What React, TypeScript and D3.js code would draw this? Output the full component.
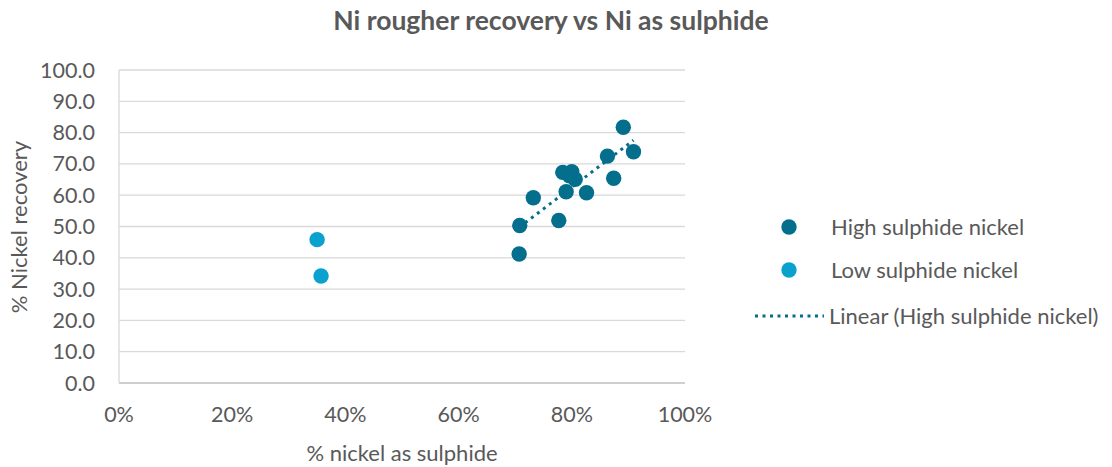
import React, { useEffect, useRef } from "react"
import * as d3 from "d3"

// % nickel as sulphide (x) and % nickel recovery (y)
const highX = [89.1, 90.9, 86.3, 87.4, 82.6, 78.4, 80.0, 80.6, 79.6, 79.0, 73.2, 77.7, 70.8, 70.7]
const highY = [81.7, 73.9, 72.5, 65.4, 60.8, 67.3, 67.5, 65.1, 66.2, 61.1, 59.2, 51.9, 50.3, 41.2]
const lowX = [35.0, 35.7]
const lowY = [45.8, 34.2]
const xTicks = [0, 20, 40, 60, 80, 100]
const yTicks = [0, 10, 20, 30, 40, 50, 60, 70, 80, 90, 100]

const HIGH = "#046F8C"
const LOW = "#0AA1CF"
const TXT = "#595959"
const FONT = "Lato, 'Open Sans', sans-serif"

function App() {
  const ref = useRef<SVGSVGElement>(null)

  useEffect(() => {
    const svg = d3.select(ref.current)
    svg.selectAll("*").remove()

    const x = d3.scaleLinear().domain([0, 100]).range([119, 685])
    const y = d3.scaleLinear().domain([0, 100]).range([383, 70])

    svg
      .append("text")
      .attr("x", 551)
      .attr("y", 30)
      .attr("text-anchor", "middle")
      .attr("font-family", FONT)
      .attr("font-size", 26.5)
      .attr("font-weight", "bold")
      .attr("fill", TXT)
      .text("Ni rougher recovery vs Ni as sulphide")

    // gridlines
    svg
      .append("g")
      .selectAll("line")
      .data(yTicks.filter(d => d > 0))
      .join("line")
      .attr("x1", x(0))
      .attr("x2", x(100))
      .attr("y1", d => y(d))
      .attr("y2", d => y(d))
      .attr("stroke", "#D9D9D9")
      .attr("stroke-width", 1.3)

    svg
      .append("line")
      .attr("x1", x(0))
      .attr("x2", x(100))
      .attr("y1", y(0))
      .attr("y2", y(0))
      .attr("stroke", "#BFBFBF")
      .attr("stroke-width", 1.3)

    svg
      .append("line")
      .attr("x1", x(0))
      .attr("x2", x(0))
      .attr("y1", y(0))
      .attr("y2", y(100))
      .attr("stroke", "#D9D9D9")
      .attr("stroke-width", 1.3)

    svg
      .append("g")
      .attr("font-family", FONT)
      .attr("font-size", 21.5)
      .attr("fill", TXT)
      .attr("text-anchor", "end")
      .selectAll("text")
      .data(yTicks)
      .join("text")
      .attr("x", 95)
      .attr("y", d => y(d) + 7.5)
      .text(d => d3.format(".1f")(d))

    svg
      .append("g")
      .attr("font-family", FONT)
      .attr("font-size", 21.5)
      .attr("fill", TXT)
      .attr("text-anchor", "middle")
      .selectAll("text")
      .data(xTicks)
      .join("text")
      .attr("x", d => x(d))
      .attr("y", 422)
      .text(d => d + "%")

    svg
      .append("text")
      .attr("x", 402)
      .attr("y", 461)
      .attr("text-anchor", "middle")
      .attr("font-family", FONT)
      .attr("font-size", 22)
      .attr("fill", TXT)
      .text("% nickel as sulphide")

    svg
      .append("text")
      .attr("transform", `translate(27,227) rotate(-90)`)
      .attr("text-anchor", "middle")
      .attr("font-family", FONT)
      .attr("font-size", 22)
      .attr("fill", TXT)
      .text("% Nickel recovery")

    // trendline (least squares)
    const mx = d3.mean(highX) as number
    const my = d3.mean(highY) as number
    const sxy = d3.sum(highX, (v, i) => (v - mx) * (highY[i] - my))
    const sxx = d3.sum(highX, v => (v - mx) * (v - mx))
    const slope = sxy / sxx
    const icpt = my - slope * mx
    const ext = d3.extent(highX) as [number, number]
    svg
      .append("path")
      .attr("d", d3.line<number>().x(v => x(v)).y(v => y(icpt + slope * v))(ext))
      .attr("stroke", HIGH)
      .attr("stroke-width", 3)
      .attr("stroke-dasharray", "3,4.5")
      .attr("fill", "none")

    svg
      .append("g")
      .selectAll("circle")
      .data(lowX.map((v, i) => [v, lowY[i]]))
      .join("circle")
      .attr("cx", d => x(d[0]))
      .attr("cy", d => y(d[1]))
      .attr("r", 7.7)
      .attr("fill", LOW)

    svg
      .append("g")
      .selectAll("circle")
      .data(highX.map((v, i) => [v, highY[i]]))
      .join("circle")
      .attr("cx", d => x(d[0]))
      .attr("cy", d => y(d[1]))
      .attr("r", 7.7)
      .attr("fill", HIGH)

    // legend
    const lg = svg.append("g").attr("font-family", FONT).attr("font-size", 22).attr("fill", TXT)
    lg.append("circle").attr("cx", 789).attr("cy", 227).attr("r", 7.7).attr("fill", HIGH)
    lg.append("text").attr("x", 831).attr("y", 234.5).text("High sulphide nickel")
    lg.append("circle").attr("cx", 789).attr("cy", 270).attr("r", 7.7).attr("fill", LOW)
    lg.append("text").attr("x", 831).attr("y", 277.5).text("Low sulphide nickel")
    lg.append("line")
      .attr("x1", 755).attr("x2", 824).attr("y1", 316).attr("y2", 316)
      .attr("stroke", HIGH).attr("stroke-width", 3).attr("stroke-dasharray", "3,4.5")
    lg.append("text").attr("x", 829).attr("y", 323.5).text("Linear (High sulphide nickel)")
  }, [])

  return (
    <div style={{ width: 1096, height: 451 }}>
      <svg ref={ref} width={1112} height={467} style={{ position: "absolute", left: 0, top: 0 }} />
    </div>
  )
}

export default App
